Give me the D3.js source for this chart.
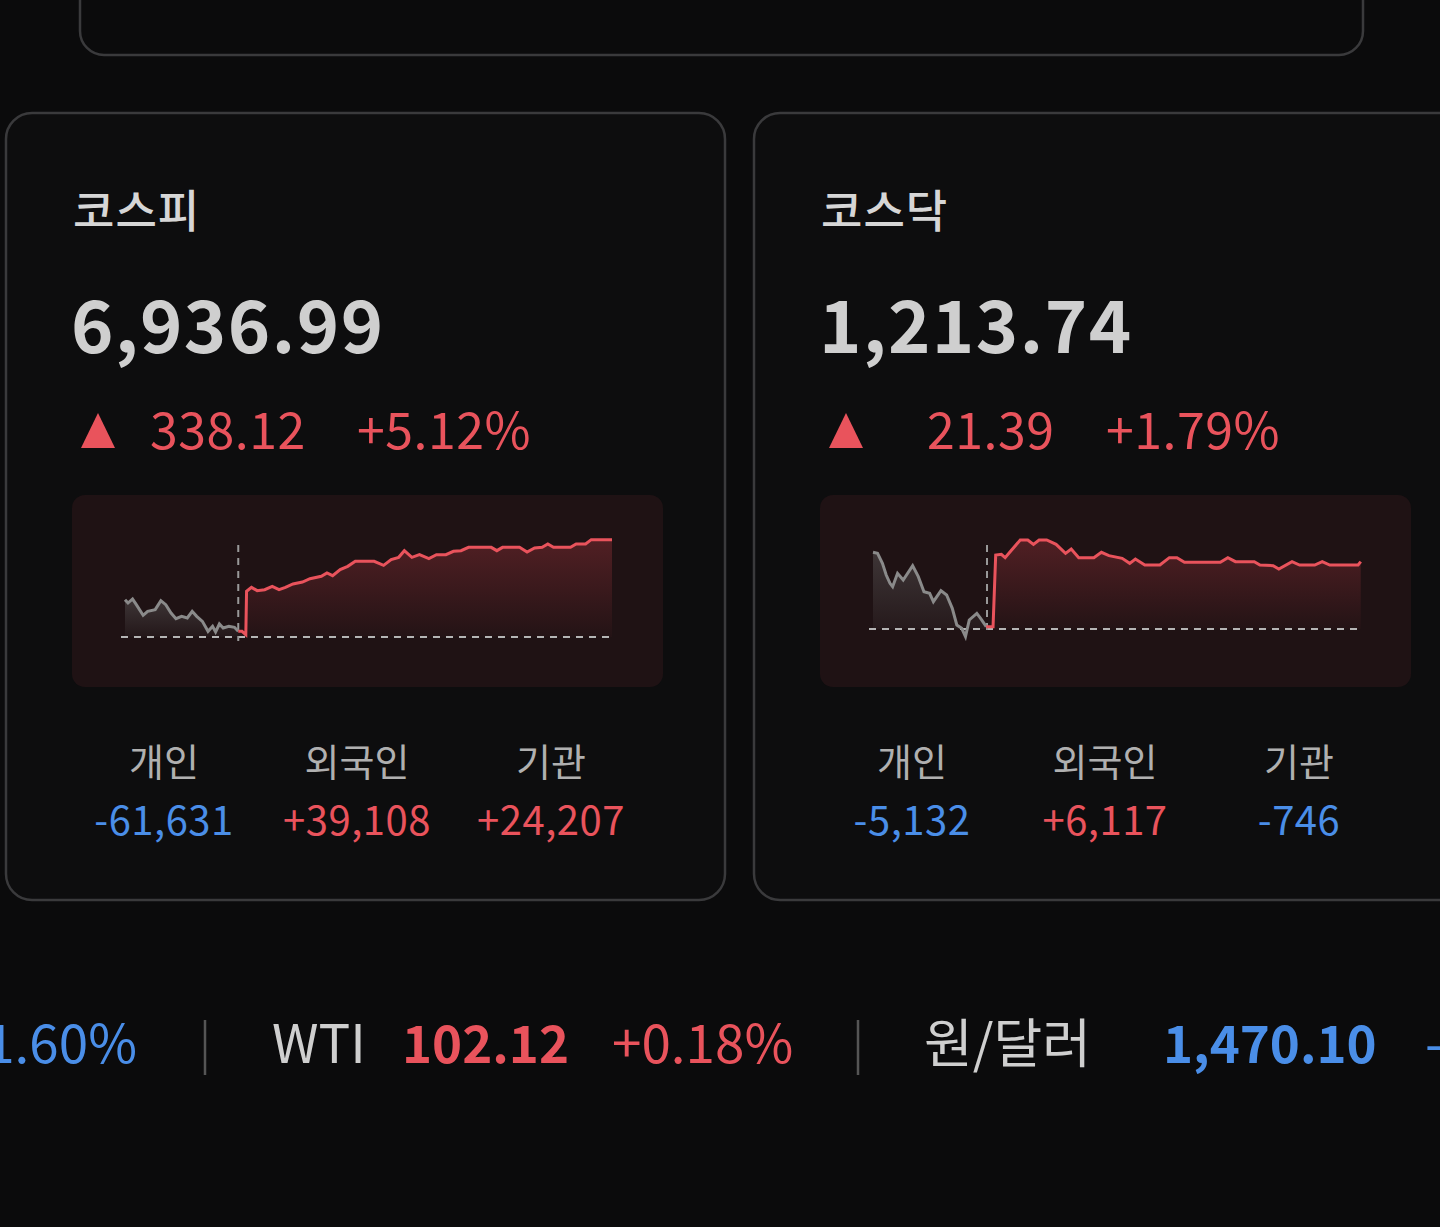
<!DOCTYPE html><html><head><meta charset="utf-8"><script src="https://cdn.jsdelivr.net/npm/d3@7"></script>
<style>body{margin:0;background:#0b0b0c;}svg{display:block}text{font-family:"Noto Sans CJK KR","Noto Sans",sans-serif}</style></head><body>
<svg id="c" width="1440" height="1227"></svg>
<script>
// KOSPI intraday: time units, value = level above previous close
const kospiPreT=[140,148,160,170,188,200,220,235,248,262,275,290,305,318,330,345,360,372,380,390,400,415,430,440];
const kospiPreV=[112,102,114,97,65,77,82,109,97,72,55,62,57,77,62,47,17,32,15,39,27,32,29,17];
const kospiT=[440,450,460,462,475,490,510,530,548,565,585,610,630,660,675,690,710,730,750,800,825,845,865,880,900,920,945,965,990,1010,1030,1050,1110,1125,1140,1185,1205,1225,1245,1260,1275,1320,1335,1360,1375,1430];
const kospiV=[17,17,7,137,149,139,142,152,142,149,159,165,175,182,192,184,202,212,227,227,215,232,239,259,239,247,235,247,247,257,259,269,269,259,269,269,255,267,269,279,269,269,279,279,292,292];
// KOSDAQ intraday
const kosdaqPreT=[140,152,165,175,185,192,205,220,245,260,275,290,300,320,335,350,362,375,385,395,415,425,440];
const kosdaqPreV=[230,227,197,162,137,127,167,147,190,157,112,107,82,115,102,62,12,2,-23,27,47,32,7];
const kosdaqT=[440,450,458,465,480,490,505,530,550,565,580,600,625,650,665,685,725,745,765,800,820,835,860,900,925,945,965,1060,1080,1100,1150,1165,1200,1215,1250,1270,1310,1330,1350,1425,1432];
const kosdaqV=[7,7,7,222,224,214,234,267,267,254,267,267,254,227,240,214,214,230,220,212,197,210,192,192,214,214,200,200,214,202,202,192,190,180,202,192,192,202,192,192,202];

const cards=[
 {name:"코스피",value:"6,936.99",chg:"338.12",pct:"+5.12%",labels:["개인","외국인","기관"],flows:["-61,631","+39,108","+24,207"],preT:kospiPreT,preV:kospiPreV,t:kospiT,v:kospiV,chgX:150},
 {name:"코스닥",value:"1,213.74",chg:"21.39",pct:"+1.79%",labels:["개인","외국인","기관"],flows:["-5,132","+6,117","-746"],preT:kosdaqPreT,preV:kosdaqPreV,t:kosdaqT,v:kosdaqV,chgX:927}
];
const RED="#e9535c",BLUE="#4a8ee8";
const svg=d3.select("#c");
const defs=svg.append("defs");
let g1=defs.append("linearGradient").attr("id","rg").attr("x1",0).attr("x2",0).attr("y1",0).attr("y2",1);
g1.append("stop").attr("offset","0").attr("stop-color","#7a2a30").attr("stop-opacity",0.55);
g1.append("stop").attr("offset","1").attr("stop-color","#7a2a30").attr("stop-opacity",0.05);
let g2=defs.append("linearGradient").attr("id","gg").attr("x1",0).attr("x2",0).attr("y1",0).attr("y2",1);
g2.append("stop").attr("offset","0").attr("stop-color","#777").attr("stop-opacity",0.35);
g2.append("stop").attr("offset","1").attr("stop-color","#777").attr("stop-opacity",0.05);

svg.append("rect").attr("x",80).attr("y",-40).attr("width",1283).attr("height",95).attr("rx",24).attr("fill","none").attr("stroke","#3a3a3c").attr("stroke-width",2.5);

cards.forEach((c,i)=>{
 const ox=i*748;
 svg.append("rect").attr("x",6+ox).attr("y",113).attr("width",719).attr("height",787).attr("rx",26).attr("fill","#0d0d0e").attr("stroke","#3a3a3c").attr("stroke-width",2.5);
 svg.append("text").attr("x",73+ox).attr("y",228).attr("font-size",45).attr("font-weight",500).attr("fill","#d6d6d6").attr("letter-spacing",1).text(c.name);
 svg.append("text").attr("x",71+ox).attr("y",353).attr("font-size",72).attr("font-weight",700).attr("fill","#cfcfcf").attr("font-family","Noto Sans").attr("letter-spacing",1.5).text(c.value);
 svg.append("path").attr("d",`M${98+ox},413 L${115+ox},448 L${81+ox},448 Z`).attr("fill",RED);
 svg.append("text").attr("x",c.chgX).attr("y",449).attr("font-size",50).attr("fill",RED).attr("font-family","Noto Sans").attr("letter-spacing",0.5).text(c.chg);
 svg.append("text").attr("x",(i?1106:357)).attr("y",449).attr("font-size",50).attr("fill",RED).attr("font-family","Noto Sans").attr("letter-spacing",0.5).text(c.pct);
 svg.append("rect").attr("x",72+ox).attr("y",495).attr("width",591).attr("height",192).attr("rx",13).attr("fill","#1f1214");
 const base=i?629:637;
 const x=d3.scaleLinear().domain([140,1430]).range([125+ox,612+ox]);
 const y=d3.scaleLinear().domain([0,300]).range([base,base-100]);
 const area=d3.area().x(d=>x(d[0])).y0(y(0)).y1(d=>y(d[1]));
 const line=d3.line().x(d=>x(d[0])).y(d=>y(d[1]));
 const pre=c.preT.map((t,j)=>[t,c.preV[j]]), post=c.t.map((t,j)=>[t,c.v[j]]);
 svg.append("path").attr("d",area(pre)).attr("fill","url(#gg)");
 svg.append("path").attr("d",area(post)).attr("fill","url(#rg)");
 svg.append("line").attr("x1",x(140)-4).attr("x2",x(1430)).attr("y1",y(0)).attr("y2",y(0)).attr("stroke","#b5b5b5").attr("stroke-width",2).attr("stroke-dasharray","7,6");
 svg.append("line").attr("x1",x(i?442:440)).attr("x2",x(i?442:440)).attr("y1",545).attr("y2",base+4).attr("stroke","#999").attr("stroke-width",2).attr("stroke-dasharray","7,6");
 svg.append("path").attr("d",line(pre)).attr("fill","none").attr("stroke","#8a8a8a").attr("stroke-width",3);
 svg.append("path").attr("d",line(post)).attr("fill","none").attr("stroke",RED).attr("stroke-width",3);
 const cx=[164,357,551];
 c.labels.forEach((l,j)=>{
  svg.append("text").attr("x",cx[j]+ox).attr("y",776).attr("text-anchor","middle").attr("font-size",38).attr("fill","#b0b0b0").text(l);
  const f=c.flows[j];
  svg.append("text").attr("x",cx[j]+ox).attr("y",835).attr("text-anchor","middle").attr("font-size",40).attr("fill",f[0]=="-"?BLUE:RED).attr("font-family","Noto Sans").attr("letter-spacing",0.5).text(f);
 });
});
// ticker
const tick=[{t:"1.60%",x:137,a:"end",c:BLUE,w:400},{t:"WTI",x:272,c:"#cfcfcf",w:400},{t:"102.12",x:402,c:RED,w:700},{t:"+0.18%",x:612,c:RED,w:400},{t:"원/달러",x:924,c:"#cfcfcf",w:400},{t:"1,470.10",x:1163,c:BLUE,w:700},{t:"-",x:1425,c:BLUE,w:400}];
tick.forEach(d=>svg.append("text").attr("x",d.x).attr("y",1063).attr("text-anchor",d.a||"start").attr("font-size",d.w==700?51:53).attr("font-weight",d.w).attr("fill",d.c).attr("font-family",d.t=="원/달러"?"Noto Sans CJK KR":"Noto Sans").text(d.t));
[205,858].forEach(xx=>svg.append("line").attr("x1",xx).attr("x2",xx).attr("y1",1020).attr("y2",1075).attr("stroke","#555").attr("stroke-width",2.5));
</script></body></html>
